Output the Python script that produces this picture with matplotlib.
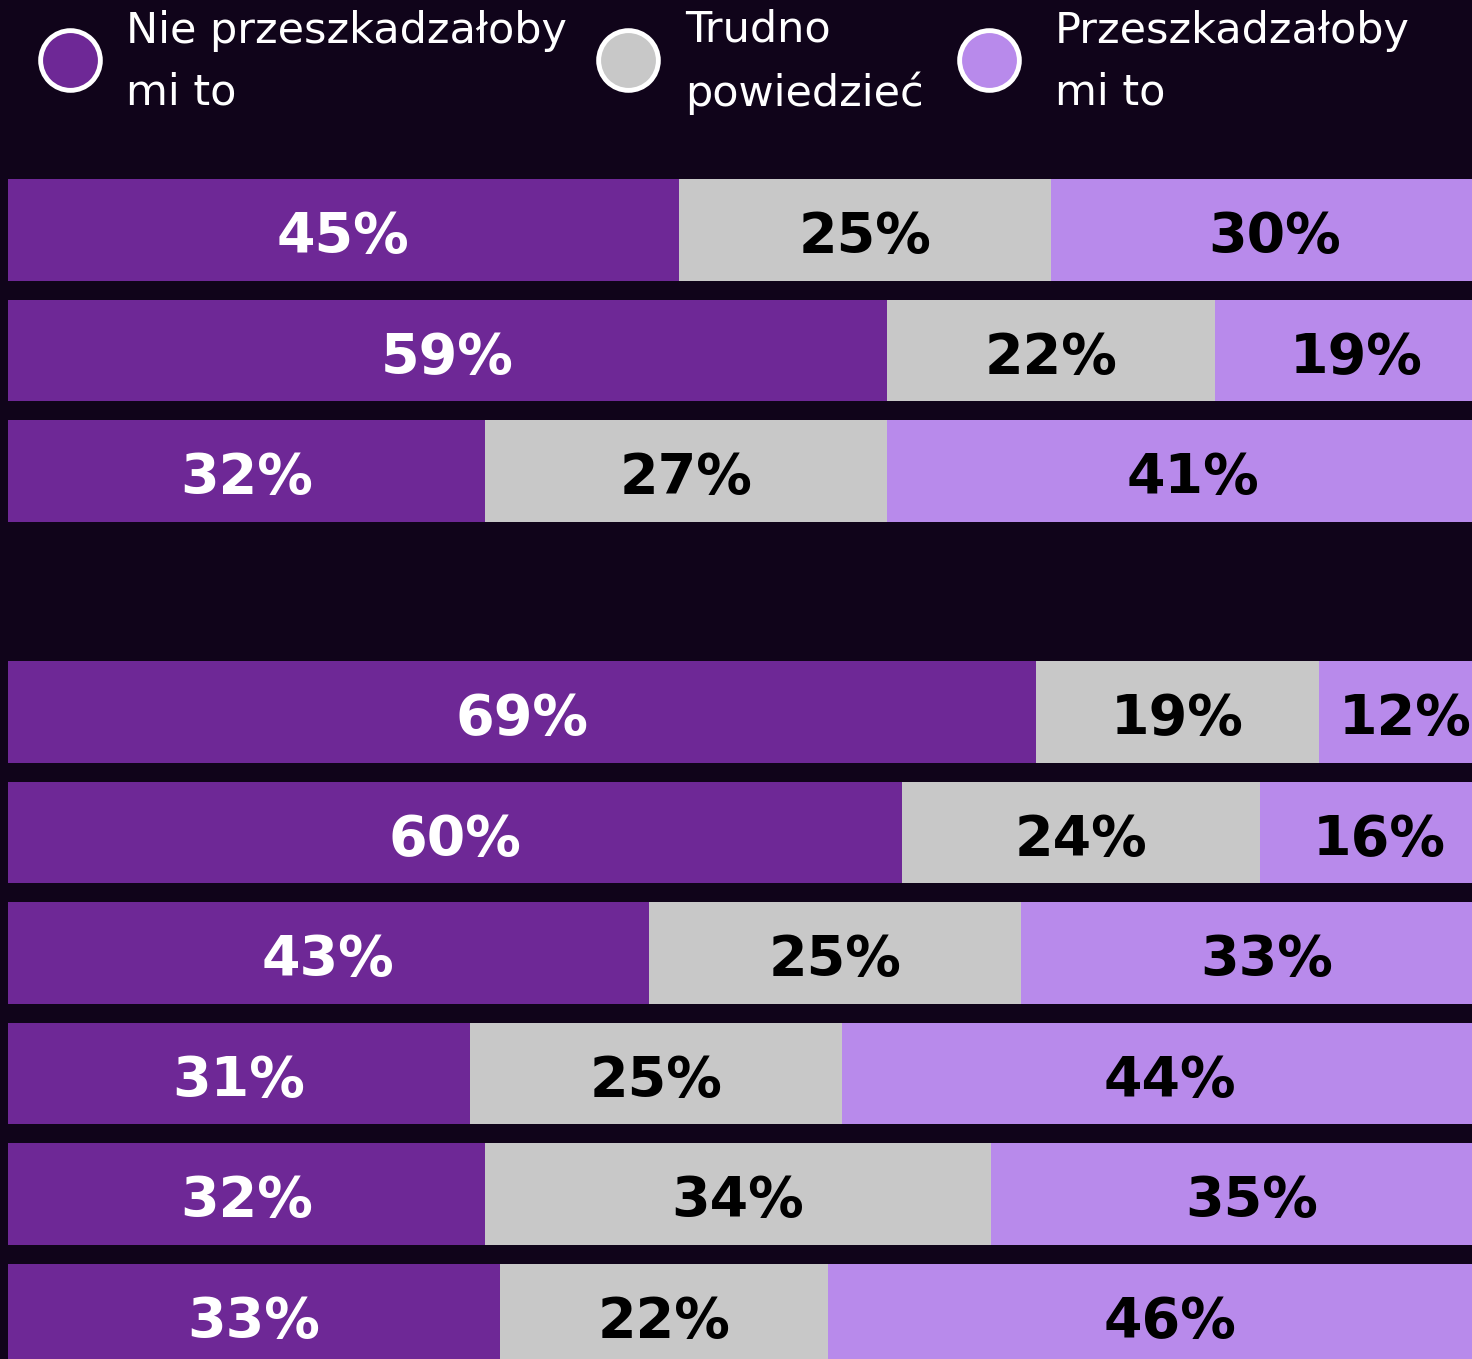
import matplotlib.pyplot as plt
import numpy as np

# data
series = ['Nie przeszkadzałoby\nmi to', 'Trudno\npowiedzieć', 'Przeszkadzałoby\nmi to']
nie_przeszkadza = [45, 59, 32, 69, 60, 43, 31, 32, 33]
trudno = [25, 22, 27, 19, 24, 25, 25, 34, 22]
przeszkadza = [30, 19, 41, 12, 16, 33, 44, 35, 46]
rows = [0, 1, 2, 4, 5, 6, 7, 8, 9]  # empty slot between the two groups

bg = '#10041a'
colors = ['#6e2896', '#c8c8c8', '#b88aeb']
text_colors = ['white', 'black', 'black']

W, H = 1472, 1359
fig = plt.figure(figsize=(W / 100, H / 100), dpi=100, facecolor=bg)
ax = fig.add_axes([0, 0, 1, 1])
ax.set_facecolor(bg)

px = 14.9      # pixels per percent
pitch = 120.5  # pixels per row
xmax = (W - 8) / px
ax.set_xlim(-8 / px, xmax)
ax.set_ylim((H - 230) / pitch, -230 / pitch)
ax.axis('off')

vals = np.array([nie_przeszkadza, trudno, przeszkadza], dtype=float)
left = np.zeros(len(rows))
for i in range(3):
    ax.barh(rows, vals[i], left=left, height=0.846, color=colors[i], linewidth=0)
    for y, l, v in zip(rows, left, vals[i]):
        # keep labels of clipped segments inside the figure
        xc = min(l + v / 2, xmax - 4.5)
        ax.text(xc, y + 0.06, f'{int(v)}%', ha='center', va='center',
                color=text_colors[i], fontsize=40, fontweight='heavy',
                family='DejaVu Sans')
    left += vals[i]

# legend drawn in pixel coordinates
lax = fig.add_axes([0, 0, 1, 1])
lax.set_xlim(0, W)
lax.set_ylim(H, 0)
lax.axis('off')
lx = [70, 628, 989]
tx = [126, 685, 1055]
for cx, t, c, lab in zip(lx, tx, colors, series):
    lax.scatter([cx], [60], s=43 ** 2, color=c, edgecolor='white', linewidth=3.5, zorder=3)
    lax.text(t, 62, lab, ha='left', va='center', color='white', fontsize=31,
             linespacing=1.6, family='DejaVu Sans')

fig.savefig('out.png', dpi=100, facecolor=bg)
